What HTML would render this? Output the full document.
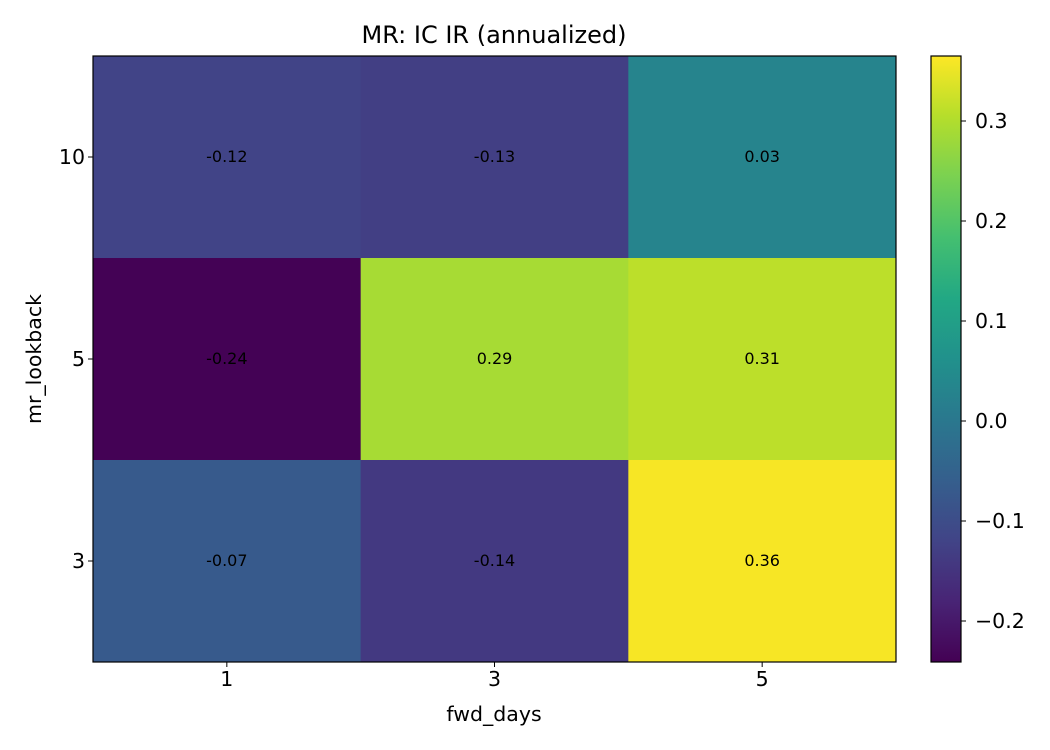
<!DOCTYPE html>
<html><head><meta charset="utf-8">
<style>
body{margin:0;background:#fff;}
svg{display:block;font-family:"DejaVu Sans","Liberation Sans",sans-serif;}
</style></head>
<body>
<svg id="chart" width="1050" height="750" viewBox="0 0 1050 750">
<defs><linearGradient id="cbg" x1="0" y1="1" x2="0" y2="0"></linearGradient></defs>
<text x="494" y="43" font-size="24" text-anchor="middle">MR: IC IR (annualized)</text>
<g id="cells"></g>
<g id="axes"></g>
<text x="494" y="721" font-size="20.5" text-anchor="middle">fwd_days</text>
<text transform="translate(41,359) rotate(-90)" font-size="20.5" text-anchor="middle">mr_lookback</text>
</svg>
<script>
const xCats = ["1","3","5"];
const yCats = ["10","5","3"];
const row10 = [-0.12,-0.13,0.03];
const row5 = [-0.24,0.29,0.31];
const row3 = [-0.07,-0.14,0.36];
const cbTicks = [-0.2,-0.1,0.0,0.1,0.2,0.3];
const vmin = -0.241, vmax = 0.365;

const rows=[row10,row5,row3];
const L=93,R=896,T=56,B=662, CBL=931,CBR=961;
const stops=["#440154","#482475","#414487","#355f8d","#2a788e","#21918c","#22a884","#44bf70","#7ad151","#b5de2b","#fde725"];
function hex(h){return [1,3,5].map(i=>parseInt(h.substr(i,2),16));}
function viridis(t){t=Math.max(0,Math.min(1,t));const p=t*10,i=Math.min(9,Math.floor(p)),f=p-i;
 const a=hex(stops[i]),b=hex(stops[i+1]);return "rgb("+a.map((v,k)=>Math.round(v+(b[k]-v)*f)).join(",")+")";}
const ns="http://www.w3.org/2000/svg";
function mk(tag,attrs,parent){const e=document.createElementNS(ns,tag);for(const k in attrs)e.setAttribute(k,attrs[k]);parent.appendChild(e);return e;}
const cw=(R-L)/xCats.length, ch=(B-T)/yCats.length;
const xC=i=>L+cw*(i+0.5), yC=j=>T+ch*(j+0.5);
const cells=document.getElementById('cells'), axes=document.getElementById('axes');
rows.forEach((row,j)=>row.forEach((v,i)=>{
 const r=mk('rect',{x:L+cw*i,y:T+ch*j,width:cw+0.5,height:ch+0.5,fill:viridis((v-vmin)/(vmax-vmin))},cells);
 
 
 const t=mk('text',{x:xC(i),y:yC(j)+5,'font-size':'16','text-anchor':'middle'},cells);
 t.textContent=v.toFixed(2);
 
 
}));
const fr=mk('rect',{x:L,y:T,width:R-L,height:B-T,fill:'none',stroke:'#000','stroke-width':1.2},axes);


xCats.forEach((c,i)=>{
 mk('line',{x1:xC(i),x2:xC(i),y1:B,y2:B+5,stroke:'#000'},axes);
 const t=mk('text',{x:xC(i),y:B+24,'font-size':'20.5','text-anchor':'middle'},axes);t.textContent=c;
 
 
});
yCats.forEach((c,j)=>{
 mk('line',{x1:L-5,x2:L,y1:yC(j),y2:yC(j),stroke:'#000'},axes);
 const t=mk('text',{x:L-8,y:yC(j)+7,'font-size':'20.5','text-anchor':'end'},axes);t.textContent=c;
 
 
});
const g=document.getElementById('cbg');
stops.forEach((s,k)=>mk('stop',{offset:(k/10),'stop-color':s},g));
const cb=mk('rect',{x:CBL,y:T,width:CBR-CBL,height:B-T,fill:'url(#cbg)',stroke:'#000','stroke-width':1.2},axes);


const yCb=v=>B-(v-vmin)/(vmax-vmin)*(B-T);
cbTicks.forEach(v=>{
 const y=yCb(v);
 mk('line',{x1:CBR,x2:CBR+5,y1:y,y2:y,stroke:'#000'},axes);
 const t=mk('text',{x:CBR+14,y:y+7,'font-size':'20.5'},axes);
 t.textContent=(v<0?"\u2212":"")+Math.abs(v).toFixed(1);
 
 
});
</script>
</body></html>
